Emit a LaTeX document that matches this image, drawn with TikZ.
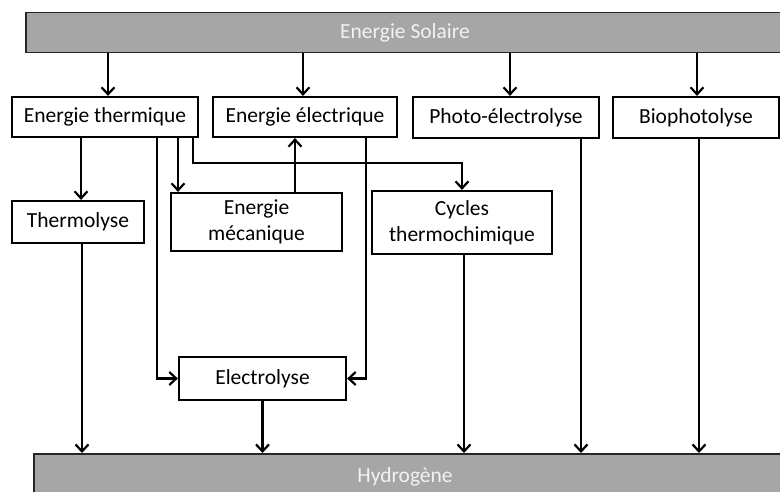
\documentclass[tikz,border=0pt]{standalone}
\usepackage{fontspec}
\setmainfont{Carlito}
\usetikzlibrary{arrows.meta}
\definecolor{bargray}{HTML}{A6A6A6}
\definecolor{bartext}{HTML}{F2F2F2}
\begin{document}
\begin{tikzpicture}[x=1pt,y=-1pt,
  every node/.style={font=\fontsize{21.5pt}{26pt}\selectfont, align=center, inner sep=0pt},
  box/.style={draw=black, line width=2.2pt, fill=white, minimum height=40pt},
  bar/.style={draw=black!85, line width=1.5pt, fill=bargray, text=bartext},
  arr/.style={line width=2.2pt, -{Straight Barb[length=7pt,width=13pt,line width=2.2pt]}},
  ln/.style={line width=2.2pt}]
\useasboundingbox (0,0) rectangle (780,492);
\path[fill=white] (0,0) rectangle (780,492);
% bars
\node[bar, minimum width=760pt, minimum height=40pt, anchor=north west] (solar) at (25,12) {};
\node[text=bartext] (solartxt) at (405,33) {Energie Solaire};
\node[bar, minimum width=752pt, minimum height=48pt, anchor=north west] (hydro) at (33,453) {};
\node[text=bartext] (hydrotxt) at (405,477) {Hydrogène};
% boxes
\node[box, minimum width=186pt] (therm) at (105,117) {Energie thermique};
\node[box, minimum width=184pt] (elec) at (305,117) {Energie électrique};
\node[box, minimum width=186pt, minimum height=41pt] (photo) at (506,117.5) {Photo-électrolyse};
\node[box, minimum width=166pt, minimum height=41pt] (bio) at (696,117.5) {Biophotolyse};
\node[box, minimum width=132pt, minimum height=42pt] (thermo) at (78,222) {Thermolyse};
\node[box, minimum width=171pt, minimum height=58pt] (meca) at (256.5,222) {Energie\\mécanique};
\node[box, minimum width=180pt, minimum height=63pt] (cycles) at (462,222.5) {Cycles\\thermochimique};
\node[box, minimum width=167pt, minimum height=43pt] (electro) at (262.5,378.5) {Electrolyse};
% solar arrows
\draw[arr] ([xshift=3pt]therm.north |- solar.south) -- ([xshift=3pt]therm.north);
\draw[arr] ([xshift=-2pt]elec.north |- solar.south) -- ([xshift=-2pt]elec.north);
\draw[arr] ([xshift=4pt]photo.north |- solar.south) -- ([xshift=4pt]photo.north);
\draw[arr] ([xshift=1pt]bio.north |- solar.south) -- ([xshift=1pt]bio.north);
% from thermique
\draw[arr] ([xshift=3pt]thermo.north |- therm.south) -- ([xshift=3pt]thermo.north);
\draw[arr] ([xshift=52pt]therm.south) |- (electro.west);
\draw[arr] ([xshift=73pt]therm.south) -- ([xshift=73pt]therm.south |- meca.north);
\draw[arr] ([xshift=88pt]therm.south) -- ++(0,25) -| (cycles.north);
% meca to elec
\draw[arr] ([xshift=38.5pt]meca.north) -- ([xshift=38.5pt]meca.north |- elec.south);
% elec to electrolyse
\draw[arr] ([xshift=61pt]elec.south) |- (electro.east);
% to hydrogen
\draw[arr] ([xshift=4pt]thermo.south) -- ([xshift=4pt]thermo.south |- hydro.north);
\draw[arr] (electro.south) -- (electro.south |- hydro.north);
\draw[arr] ([xshift=2pt]cycles.south) -- ([xshift=2pt]cycles.south |- hydro.north);
\draw[arr] ([xshift=75pt]photo.south) -- ([xshift=75pt]photo.south |- hydro.north);
\draw[arr] ([xshift=3pt]bio.south) -- ([xshift=3pt]bio.south |- hydro.north);
\end{tikzpicture}
\end{document}
